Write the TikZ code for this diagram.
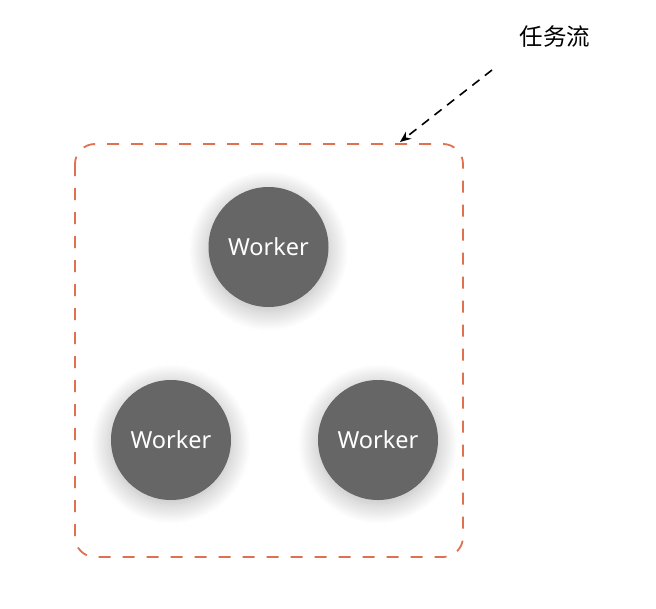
\documentclass[tikz,border=0pt]{standalone}
\usepackage{fontspec}
\setmainfont{Noto Sans}
\newfontfamily\cjk{Noto Sans CJK SC}
\usetikzlibrary{shadows.blur,arrows.meta}
\definecolor{dashorange}{HTML}{E0704F}
\definecolor{workergray}{HTML}{666666}
\tikzset{
  worker/.style={circle, fill=workergray, minimum size=120pt, inner sep=0pt,
    text=white, font=\fontsize{23.5}{28}\selectfont,
    blur shadow={shadow xshift=0pt, shadow yshift=-4pt, shadow blur radius=20pt, shadow opacity=30, shadow blur steps=25}},
  pool/.style={draw=dashorange, line width=1.8pt, dash pattern=on 12pt off 12pt, rounded corners=20pt},
  flowarrow/.style={draw=black, line width=1.6pt, dash pattern=on 9pt off 7pt, -{Stealth[length=11pt,width=9pt]}},
  label/.style={font=\cjk\fontsize{23.5}{26}\selectfont, inner sep=0pt}
}
\begin{document}
\begin{tikzpicture}[x=1pt,y=-1pt]
\useasboundingbox (0,0) rectangle (656,608);
\draw[pool] (75,144) rectangle (463,557);
\node[worker] (w1) at (268.5,247) {Worker};
\node[worker] (w2) at (171,440) {Worker};
\node[worker] (w3) at (378,440) {Worker};
\node[label] (lbl) at (555,37) {任务流};
\coordinate (src) at (492,70);
\coordinate (dst) at (400,142);
\draw[flowarrow] (src) -- (dst);
\end{tikzpicture}
\end{document}
